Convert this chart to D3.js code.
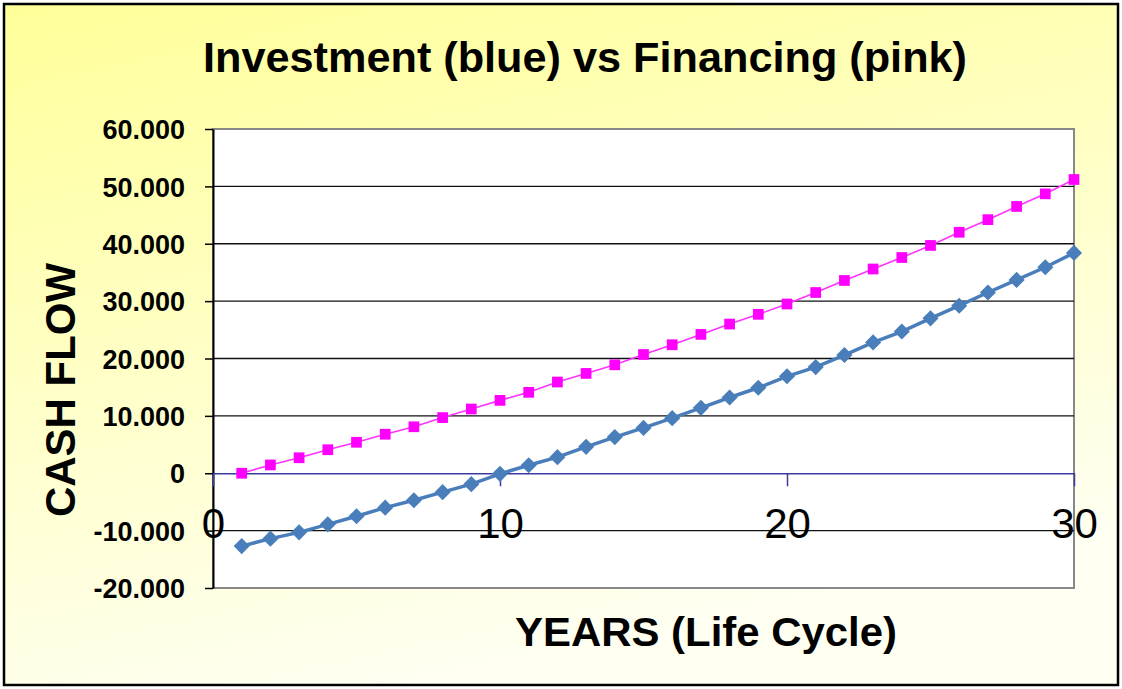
<!DOCTYPE html>
<html>
<head>
<meta charset="utf-8">
<script src="https://cdn.jsdelivr.net/npm/d3@7"></script>
<style>
  body { margin: 0; padding: 0; background: #fff; }
  svg { display: block; }
</style>
</head>
<body>
<script>
// chart data
var years = d3.range(1, 31);
var investment = [-12700, -11400, -10300, -8900, -7500, -6000, -4700, -3300, -1900, -100,
  1400, 2800, 4600, 6300, 7900, 9600, 11400, 13200, 14900, 16900,
  18500, 20600, 22800, 24700, 27000, 29200, 31500, 33700, 35900, 38400];
var financing = [0, 1450, 2700, 4100, 5400, 6800, 8100, 9700, 11200, 12700,
  14100, 15900, 17400, 18900, 20700, 22400, 24200, 26000, 27700, 29500,
  31500, 33600, 35600, 37600, 39700, 42000, 44200, 46500, 48700, 51200];
var yTicks = [-20000, -10000, 0, 10000, 20000, 30000, 40000, 50000, 60000];
var xTicks = [0, 10, 20, 30];

var totalWidth = 1122, totalHeight = 689;
var plot = { left: 213, top: 129, right: 1074, bottom: 588 };
var fontFamily = '"Liberation Sans", Arial, sans-serif';

var svg = d3.select('body')
  .append('svg')
  .attr('width', totalWidth)
  .attr('height', totalHeight);

// yellow background fading to near white
var grad = svg.append('defs').append('linearGradient')
  .attr('id', 'bg')
  .attr('x1', 0).attr('y1', 0)
  .attr('x2', 0.35).attr('y2', 1);
grad.append('stop').attr('offset', '0%').attr('stop-color', '#ffff99');
grad.append('stop').attr('offset', '100%').attr('stop-color', '#fffff2');

svg.append('rect')
  .attr('x', 4).attr('y', 4)
  .attr('width', 1114).attr('height', 681)
  .attr('fill', 'url(#bg)')
  .attr('stroke', '#000')
  .attr('stroke-width', 2.5);

// thousands with a dot, plain hyphen for negatives
var locale = d3.formatLocale({ decimal: ',', thousands: '.', grouping: [3], currency: ['', ''], minus: '-' });
var fmt = locale.format(',.0f');

var xScale = d3.scaleLinear().domain([0, 30]).range([plot.left, plot.right]);
var yScale = d3.scaleLinear().domain([-20000, 60000]).range([plot.bottom, plot.top]);

// plot area
svg.append('rect')
  .attr('x', plot.left).attr('y', plot.top)
  .attr('width', plot.right - plot.left)
  .attr('height', plot.bottom - plot.top)
  .attr('fill', '#fff')
  .attr('stroke', '#888')
  .attr('stroke-width', 2);

// gridlines
svg.append('g').selectAll('line')
  .data(yTicks.filter(function(d) { return d !== 0 && d !== -20000 && d !== 60000; }))
  .enter()
  .append('line')
  .attr('x1', plot.left).attr('x2', plot.right)
  .attr('y1', function(d) { return yScale(d); })
  .attr('y2', function(d) { return yScale(d); })
  .attr('stroke', '#111')
  .attr('stroke-width', 1.3);

// left axis
var leftAxis = d3.axisLeft(yScale)
  .tickValues(yTicks)
  .tickSize(8)
  .tickSizeOuter(0)
  .tickPadding(20)
  .tickFormat(fmt);
var leftAxisNodes = svg.append('g')
  .attr('transform', 'translate(' + plot.left + ',0)')
  .call(leftAxis);
leftAxisNodes.select('.domain').attr('stroke', '#000').attr('stroke-width', 2);
leftAxisNodes.selectAll('.tick line').attr('stroke', '#000').attr('stroke-width', 1.5);
leftAxisNodes.selectAll('text')
  .attr('fill', '#000')
  .style('font-family', fontFamily)
  .style('font-size', '27px')
  .style('font-weight', 'bold')
  .attr('dy', '0.36em');

// bottom axis sitting on the zero line
var bottomAxis = d3.axisBottom(xScale)
  .tickValues(xTicks)
  .tickSize(13)
  .tickSizeOuter(0)
  .tickFormat(d3.format('d'));
var bottomAxisNodes = svg.append('g')
  .attr('transform', 'translate(0,' + yScale(0) + ')')
  .call(bottomAxis);
bottomAxisNodes.select('.domain').attr('stroke', '#3a3aa0').attr('stroke-width', 1.3);
bottomAxisNodes.selectAll('.tick line').attr('stroke', '#3a3aa0').attr('stroke-width', 1.5);
bottomAxisNodes.selectAll('text')
  .attr('fill', '#000')
  .attr('y', 35)
  .style('font-family', fontFamily)
  .style('font-size', '42px');

// series
var seriesLine = d3.line()
  .x(function(d, i) { return xScale(years[i]); })
  .y(function(d) { return yScale(d); });

svg.append('path')
  .datum(investment)
  .attr('d', seriesLine)
  .attr('fill', 'none')
  .attr('stroke', '#4a7ebb')
  .attr('stroke-width', 3.5);

svg.append('path')
  .datum(financing)
  .attr('d', seriesLine)
  .attr('fill', 'none')
  .attr('stroke', '#ff33ff')
  .attr('stroke-width', 1.6);

var diamond = d3.symbol().type(d3.symbolSquare).size(130);
svg.append('g').selectAll('path')
  .data(investment)
  .enter()
  .append('path')
  .attr('d', diamond)
  .attr('transform', function(d, i) { return 'translate(' + xScale(years[i]) + ',' + yScale(d) + ') rotate(45)'; })
  .attr('fill', '#4a7ebb');

var square = d3.symbol().type(d3.symbolSquare).size(115);
svg.append('g').selectAll('path')
  .data(financing)
  .enter()
  .append('path')
  .attr('d', square)
  .attr('transform', function(d, i) { return 'translate(' + xScale(years[i]) + ',' + yScale(d) + ')'; })
  .attr('fill', '#ff00ff');

// titles
svg.append('text')
  .text('Investment (blue) vs Financing (pink)')
  .attr('x', 585).attr('y', 72)
  .attr('text-anchor', 'middle')
  .attr('textLength', 764)
  .attr('lengthAdjust', 'spacingAndGlyphs')
  .style('font-family', fontFamily)
  .style('font-size', '43px')
  .style('font-weight', 'bold');

svg.append('text')
  .text('CASH FLOW')
  .attr('transform', 'translate(75,390) rotate(-90)')
  .attr('text-anchor', 'middle')
  .attr('textLength', 254)
  .attr('lengthAdjust', 'spacingAndGlyphs')
  .style('font-family', fontFamily)
  .style('font-size', '42px')
  .style('font-weight', 'bold');

svg.append('text')
  .text('YEARS (Life Cycle)')
  .attr('x', 706).attr('y', 646)
  .attr('text-anchor', 'middle')
  .attr('textLength', 382)
  .attr('lengthAdjust', 'spacingAndGlyphs')
  .style('font-family', fontFamily)
  .style('font-size', '40px')
  .style('font-weight', 'bold');
</script>
</body>
</html>
